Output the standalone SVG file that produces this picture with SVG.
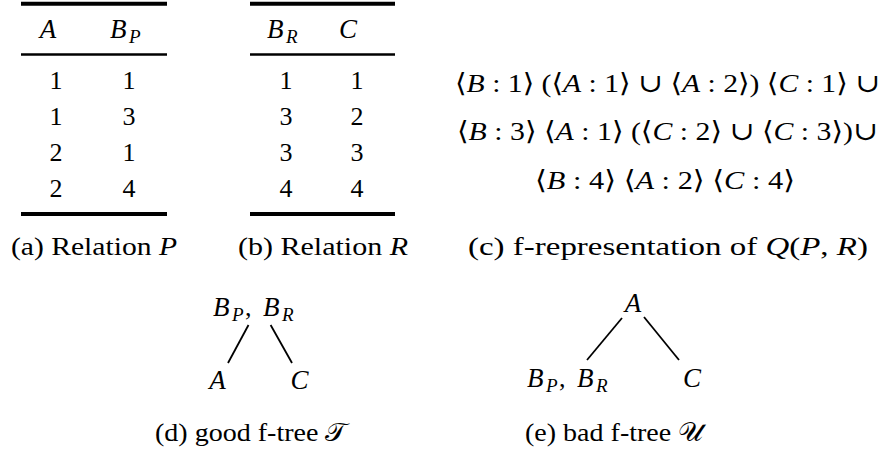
<svg xmlns="http://www.w3.org/2000/svg" width="882" height="459" viewBox="0 0 882 459" font-family="'Liberation Serif', 'DejaVu Serif', serif">
<style>
text { font-family: "Liberation Serif", "DejaVu Serif", serif; font-size: 26px; fill: #000; }
.i { font-style: italic; }
.L { font-style: italic; font-size: 27px; }
.sub { font-style: italic; font-size: 19px; }
.m { text-anchor: middle; }
.thick { stroke: #000; stroke-width: 4; }
.mid { stroke: #000; stroke-width: 2.4; }
.edge { stroke: #000; stroke-width: 1.8; fill: none; }
</style>
<rect width="882" height="459" fill="#fff"/>

<g id="table-P">
  <line class="thick" x1="21" y1="3.7" x2="167" y2="3.7"/>
  <text class="L m" x="48" y="38">A</text>
  <text y="38"><tspan class="L" x="110">B</tspan><tspan class="sub" x="129" dy="5">P</tspan></text>
  <line class="mid" x1="21" y1="54.5" x2="167" y2="54.5"/>
  <text class="m" x="56" y="89">1</text><text class="m" x="129" y="89">1</text>
  <text class="m" x="56" y="125">1</text><text class="m" x="129" y="125">3</text>
  <text class="m" x="56" y="161">2</text><text class="m" x="129" y="161">1</text>
  <text class="m" x="56" y="197">2</text><text class="m" x="129" y="197">4</text>
  <line class="thick" x1="21" y1="214" x2="167" y2="214"/>
  <text x="11" y="255" textLength="166" lengthAdjust="spacingAndGlyphs">(a) Relation <tspan class="i">P</tspan></text>
</g>

<g id="table-R">
  <line class="thick" x1="250" y1="3.7" x2="395" y2="3.7"/>
  <text y="38"><tspan class="L" x="267">B</tspan><tspan class="sub" x="286" dy="5">R</tspan></text>
  <text class="L m" x="348" y="38">C</text>
  <line class="mid" x1="250" y1="54.5" x2="395" y2="54.5"/>
  <text class="m" x="286" y="89">1</text><text class="m" x="357" y="89">1</text>
  <text class="m" x="286" y="125">3</text><text class="m" x="357" y="125">2</text>
  <text class="m" x="286" y="161">3</text><text class="m" x="357" y="161">3</text>
  <text class="m" x="286" y="197">4</text><text class="m" x="357" y="197">4</text>
  <line class="thick" x1="250" y1="214" x2="395" y2="214"/>
  <text x="238" y="255" textLength="170" lengthAdjust="spacingAndGlyphs">(b) Relation <tspan class="i">R</tspan></text>
</g>

<g id="f-representation">
  <text x="455" y="92" textLength="425" lengthAdjust="spacingAndGlyphs">⟨<tspan class="i">B</tspan> : 1⟩ (⟨<tspan class="i">A</tspan> : 1⟩ ∪ ⟨<tspan class="i">A</tspan> : 2⟩) ⟨<tspan class="i">C</tspan> : 1⟩ ∪</text>
  <text x="457" y="140" textLength="421" lengthAdjust="spacingAndGlyphs">⟨<tspan class="i">B</tspan> : 3⟩ ⟨<tspan class="i">A</tspan> : 1⟩ (⟨<tspan class="i">C</tspan> : 2⟩ ∪ ⟨<tspan class="i">C</tspan> : 3⟩)∪</text>
  <text x="535" y="189" textLength="260" lengthAdjust="spacingAndGlyphs">⟨<tspan class="i">B</tspan> : 4⟩ ⟨<tspan class="i">A</tspan> : 2⟩ ⟨<tspan class="i">C</tspan> : 4⟩</text>
  <text x="468" y="255" textLength="400" lengthAdjust="spacingAndGlyphs">(c) f-representation of <tspan class="i">Q</tspan>(<tspan class="i">P</tspan>, <tspan class="i">R</tspan>)</text>
</g>

<g id="connectors">
  <line class="edge" x1="248.5" y1="325" x2="228" y2="363"/>
  <line class="edge" x1="270.6" y1="325" x2="292" y2="363"/>
  <line class="edge" x1="622" y1="318" x2="587" y2="360"/>
  <line class="edge" x1="644" y1="317" x2="679" y2="360"/>
</g>

<g id="tree-T">
  <g id="T-root"><text y="316"><tspan class="L" x="213">B</tspan><tspan class="sub" x="232" dy="5">P</tspan><tspan x="245" dy="-5">,</tspan><tspan class="L" x="263">B</tspan><tspan class="sub" x="282" dy="5">R</tspan></text></g>
  <g id="T-A"><text class="L m" x="217.5" y="389">A</text></g>
  <g id="T-C"><text class="L m" x="299.5" y="389">C</text></g>
  <text x="155" y="441" textLength="192" lengthAdjust="spacingAndGlyphs">(d) good f-tree 𝒯</text>
</g>

<g id="tree-U">
  <g id="U-root"><text class="L m" x="633" y="312">A</text></g>
  <g id="U-B"><text y="387"><tspan class="L" x="527">B</tspan><tspan class="sub" x="546" dy="5">P</tspan><tspan x="559" dy="-5">,</tspan><tspan class="L" x="577">B</tspan><tspan class="sub" x="596" dy="5">R</tspan></text></g>
  <g id="U-C"><text class="L m" x="692" y="387">C</text></g>
  <text x="525" y="441" textLength="178" lengthAdjust="spacingAndGlyphs">(e) bad f-tree 𝒰</text>
</g>
</svg>
